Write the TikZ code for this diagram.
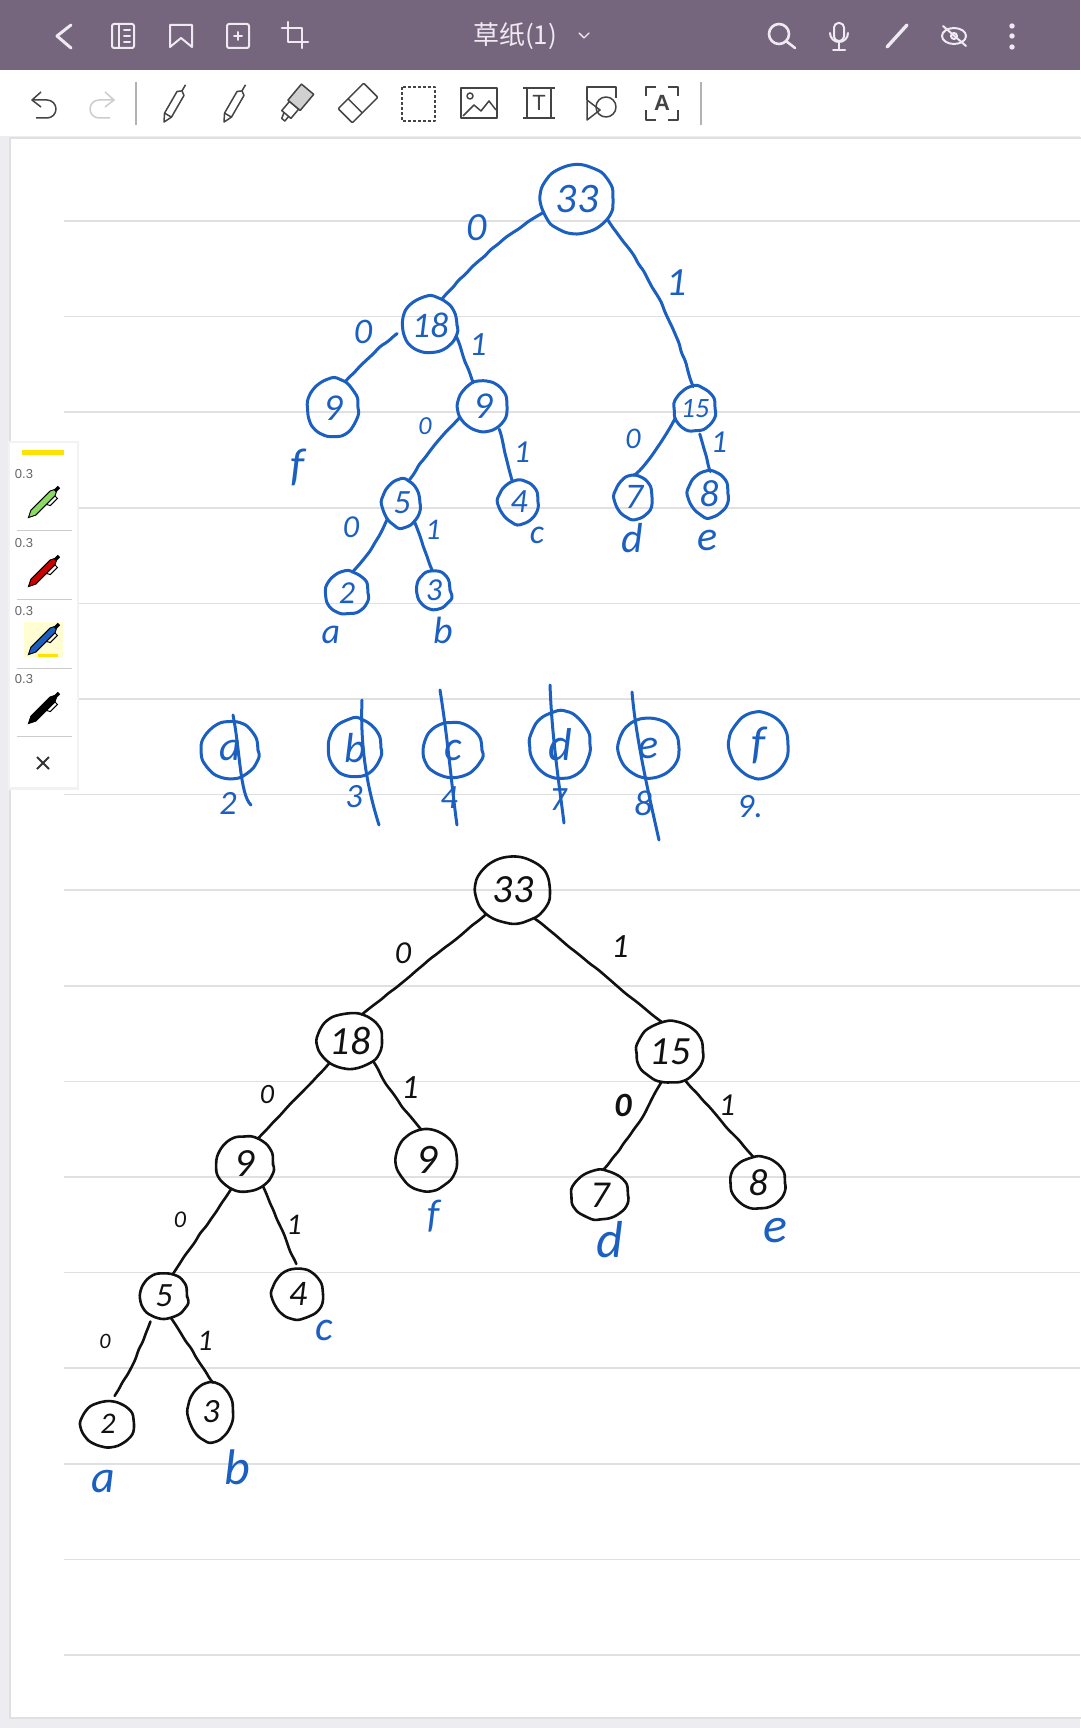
\documentclass[tikz,border=0pt]{standalone}
\usepackage{fontspec}
\setmainfont{Carlito}
\newfontfamily\cjk{Noto Sans CJK SC}
\newfontfamily\uifont{Liberation Sans}
\usetikzlibrary{shapes.geometric,decorations.pathmorphing}
\definecolor{barcolor}{HTML}{75667D}
\definecolor{barink}{HTML}{EFE9F2}
\definecolor{toolink}{HTML}{444444}
\definecolor{ruleline}{HTML}{E0E0E0}
\definecolor{stripcolor}{HTML}{EDEDF1}
\definecolor{inkblue}{HTML}{1B5FC1}
\definecolor{inkblack}{HTML}{111111}
\tikzset{
	wobble/.style={decorate, decoration={random steps, segment length=9pt, amplitude=0.7pt}, rounded corners=3pt, line join=round},
	ballwobble/.style={decorate, decoration={random steps, segment length=9pt, amplitude=0.7pt, pre=lineto, pre length=2pt, post=lineto, post length=5pt}, rounded corners=3pt, line join=round},
	ruled/.style={draw=ruleline, line width=1.6pt},
	barline/.style={draw=barink, line width=2pt, line cap=round, line join=round},
	toolline/.style={draw=toolink, line width=1.5pt, line join=round},
	blueedge/.style={draw=inkblue, line width=3pt, line cap=round},
	blackedge/.style={draw=inkblack, line width=2.6pt, line cap=round},
	ball/.style 2 args={shape=ellipse, inner sep=0pt, minimum width=2*#1, minimum height=2*#2, ballwobble},
	bluenode/.style 2 args={ball={#1}{#2}, draw=inkblue, line width=3pt, text=inkblue},
	blacknode/.style 2 args={ball={#1}{#2}, draw=inkblack, line width=2.6pt, text=inkblack},
	pts/.style={font=\fontsize{#1}{#1}\selectfont\itshape},
	bluetext/.style={pts=#1, text=inkblue, inner sep=0pt},
	blacktext/.style={pts=#1, text=inkblack, inner sep=0pt},
}
\def\penicon(#1, #2)#3{
	\begin{scope}[shift={(#1, #2)}, rotate=45]
		\draw[fill=#3, line width=1pt] (-22, 0) -- (-15, -3.5) -- (12, -3.5) -- (16, -1.5) -- (16, 1.5) -- (12, 3.5) -- (-15, 3.5) -- cycle;
		\draw[fill=black] (16, -1.5) rectangle (21, 1.5);
		\draw[line width=1pt] (12, 3.5) -- (12, 7) -- (2, 7) -- (0, 3.5);
	\end{scope}
}
\def\toolpen(#1, #2){
	\begin{scope}[shift={(#1, #2)}, rotate=60]
		\draw[toolline] (-22, 0) -- (-14, -4) -- (11, -4) -- (14, 0) -- (11, 4) -- (-14, 4) -- cycle;
		\draw[toolline] (14, 0) -- (21, 0);
		\draw[toolline] (-14, -4) -- (-14, 4);
	\end{scope}
}
\begin{document}
\begin{tikzpicture}[x=1pt, y=-1pt]
	%%%%% PAGE %%%%%
	\useasboundingbox (0, 0) rectangle (1080, 1728);
	\fill[stripcolor] (0, 0) rectangle (1080, 1728);
	\draw[draw=black!12, fill=white, line width=1.5pt] (10, 138) rectangle (1084, 1718);
	\fill[barcolor] (0, 0) rectangle (1080, 70);
	\fill[white] (0, 70) rectangle (1080, 136);
	\draw[ruled] (64, 221) -- (1080, 221);
	\draw[ruled] (64, 316.6) -- (1080, 316.6);
	\draw[ruled] (64, 412.2) -- (1080, 412.2);
	\draw[ruled] (64, 507.8) -- (1080, 507.8);
	\draw[ruled] (64, 603.4) -- (1080, 603.4);
	\draw[ruled] (64, 699) -- (1080, 699);
	\draw[ruled] (64, 794.6) -- (1080, 794.6);
	\draw[ruled] (64, 890.2) -- (1080, 890.2);
	\draw[ruled] (64, 985.8) -- (1080, 985.8);
	\draw[ruled] (64, 1081.4) -- (1080, 1081.4);
	\draw[ruled] (64, 1177) -- (1080, 1177);
	\draw[ruled] (64, 1272.6) -- (1080, 1272.6);
	\draw[ruled] (64, 1368.2) -- (1080, 1368.2);
	\draw[ruled] (64, 1463.8) -- (1080, 1463.8);
	\draw[ruled] (64, 1559.4) -- (1080, 1559.4);
	\draw[ruled] (64, 1655) -- (1080, 1655);

	%%%%% TOP BAR %%%%%
	\draw[barline, line width=3pt] (71, 25) -- (57, 36) -- (71, 48);
	\draw[barline, rounded corners=2pt] (112, 24) rectangle (134, 48);
	\draw[barline] (119, 24) -- (119, 48);
	\draw[barline] (124, 30) -- (130, 30);
	\draw[barline] (124, 36) -- (130, 36);
	\draw[barline] (124, 42) -- (130, 42);
	\draw[barline] (170, 25) -- (192, 25) -- (192, 47) -- (181, 38) -- (170, 47) -- cycle;
	\draw[barline, rounded corners=2pt] (227, 24) rectangle (249, 48);
	\draw[barline] (234, 36) -- (242, 36);
	\draw[barline] (238, 32) -- (238, 40);
	\draw[barline, line width=2.6pt] (288, 22) -- (288, 42) -- (308, 42);
	\draw[barline, line width=2.6pt] (282, 28) -- (302, 28) -- (302, 48);
	\node[text=barink, inner sep=0pt] (title) at (515, 36) {\fontsize{26}{26}\selectfont\cjk 草纸(1)};
	\draw[barline, line width=1.4pt] (579, 33) -- (584, 38) -- (589, 33);
	\draw[barline, line width=2.6pt] (779, 34) circle (10);
	\draw[barline, line width=2.6pt] (786, 41) -- (795, 48);
	\draw[barline, rounded corners=4.5pt] (834, 23) rectangle (844, 41);
	\draw[barline] (830, 33) arc (180:0:9);
	\draw[barline] (839, 42) -- (839, 50);
	\draw[barline] (833, 50) -- (845, 50);
	\draw[barline, line width=3.4pt] (887, 47) -- (907, 25);
	\draw[barline] (954, 36) ellipse (12 and 8);
	\draw[barline] (954, 36) circle (3);
	\draw[barline] (943, 26) -- (966, 46);
	\fill[barink] (1012, 26) circle (2.7);
	\fill[barink] (1012, 36) circle (2.7);
	\fill[barink] (1012, 47) circle (2.7);

	%%%%% TOOLBAR %%%%%
	\draw[toolline] (41, 92) -- (32, 100) -- (41, 107);
	\draw[toolline] (32, 100) -- (47, 100) arc (-90:90:9) -- (36, 118);
	\draw[toolline, draw=black!20] (105, 92) -- (114, 100) -- (105, 107);
	\draw[toolline, draw=black!20] (114, 100) -- (99, 100) arc (-90:-270:9) -- (110, 118);
	\draw[draw=black!30, line width=1.2pt] (136, 82) -- (136, 125);
	\toolpen(175, 103);
	\toolpen(235, 103);
	\begin{scope}[shift={(296, 103)}, rotate=50]
		\draw[toolline] (-15, -6) rectangle (-3, 6);
		\draw[toolline, fill=toolink!25] (-3, -8) rectangle (18, 8);
		\draw[toolline] (-15, -3) -- (-21, -1) -- (-21, 3) -- (-15, 3);
	\end{scope}
	\begin{scope}[shift={(358, 103)}, rotate=45]
		\draw[toolline, rounded corners=1pt] (-18, -10) rectangle (18, 10);
		\draw[toolline] (-4, -10) -- (-4, 10);
	\end{scope}
	\draw[toolline, densely dashed] (402, 87) rectangle (435, 121);
	\draw[toolline] (461, 88) rectangle (497, 118);
	\draw[toolline] (470, 96) circle (3);
	\draw[toolline] (463, 116) -- (474, 105) -- (481, 111) -- (489, 101) -- (496, 110);
	\draw[toolline] (523, 88) -- (555, 88);
	\draw[toolline] (523, 118) -- (555, 118);
	\draw[toolline] (527, 88) -- (527, 118);
	\draw[toolline] (551, 88) -- (551, 118);
	\node[text=toolink, inner sep=0pt] (textT) at (539, 103) {\fontsize{22}{22}\selectfont\uifont T};
	\draw[toolline] (587, 100) -- (587, 87) -- (616, 87) -- (616, 98);
	\draw[toolline] (587, 100) -- (587, 120) -- (600, 110) -- cycle;
	\draw[toolline] (606, 107) circle (10);
	\draw[toolline] (646, 96) -- (646, 87) -- (656, 87);
	\draw[toolline] (668, 87) -- (678, 87) -- (678, 96);
	\draw[toolline] (646, 110) -- (646, 120) -- (656, 120);
	\draw[toolline] (668, 120) -- (678, 120) -- (678, 110);
	\node[text=toolink, inner sep=0pt] (textA) at (662, 103) {\fontsize{22}{22}\selectfont\uifont\bfseries A};
	\draw[draw=black!30, line width=1.2pt] (701, 82) -- (701, 125);

	%%%%% PEN PANEL %%%%%
	\fill[black!5] (8, 441) rectangle (79, 790);
	\fill[white] (10, 443) rectangle (77, 787);
	\fill[yellow!85!orange] (22, 449.5) rectangle (64, 454.5);
	\node[text=black!60, inner sep=0pt] (thick1) at (24, 474) {\fontsize{13}{13}\selectfont\uifont 0.3};
	\node[text=black!60, inner sep=0pt] (thick2) at (24, 543) {\fontsize{13}{13}\selectfont\uifont 0.3};
	\node[text=black!60, inner sep=0pt] (thick3) at (24, 611) {\fontsize{13}{13}\selectfont\uifont 0.3};
	\node[text=black!60, inner sep=0pt] (thick4) at (24, 679) {\fontsize{13}{13}\selectfont\uifont 0.3};
	\fill[yellow!18] (24, 622) rectangle (63, 658);
	\fill[yellow!85!orange] (38, 654) rectangle (58, 656.5);
	\penicon(44, 502){green!50!olive!60!white}
	\penicon(44, 571){red!80!black}
	\penicon(44, 639){inkblue}
	\penicon(44, 708){black}
	\draw[draw=black!20, line width=1pt] (17, 530) -- (72, 530);
	\draw[draw=black!20, line width=1pt] (17, 599) -- (72, 599);
	\draw[draw=black!20, line width=1pt] (17, 668) -- (72, 668);
	\draw[draw=black!20, line width=1pt] (17, 736) -- (72, 736);
	\draw[draw=black!80, line width=2pt] (37, 757) -- (49, 769);
	\draw[draw=black!80, line width=2pt] (49, 757) -- (37, 769);

	%%%%% BLUE TREE %%%%%
	\pgfmathsetseed{42}
	\node[bluenode={36pt}{34pt}, bluetext=42] (up33) at (577, 199) {33};
	\node[bluenode={27pt}{27pt}, bluetext=36] (up18) at (430, 325) {18};
	\node[bluenode={25pt}{28pt}, bluetext=38] (upnineL) at (333, 408) {9};
	\node[bluenode={24pt}{24pt}, bluetext=38] (upnineR) at (483, 406) {9};
	\node[bluenode={20pt}{21pt}, bluetext=28] (up15) at (695, 409) {15};
	\node[bluenode={18pt}{22pt}, bluetext=34] (up5) at (402, 503) {5};
	\node[bluenode={19pt}{20pt}, bluetext=34] (up4) at (519, 502) {4};
	\node[bluenode={18pt}{20pt}, bluetext=36] (up7) at (634, 497) {7};
	\node[bluenode={19pt}{21pt}, bluetext=38] (up8) at (709, 494) {8};
	\node[bluenode={21pt}{20pt}, bluetext=32] (up2) at (347, 593) {2};
	\node[bluenode={16pt}{18pt}, bluetext=32] (up3) at (434, 590) {3};

	\draw[blueedge, wobble] (up33.202) to[bend right=8] (up18.65);
	\draw[blueedge, wobble] (up33.-34) to[bend left=10] (up15.95);
	\draw[blueedge, wobble, shorten <=8pt] (up18.191) to[bend right=6] (upnineL.65);
	\draw[blueedge, wobble] (up18.-23) to (upnineR.113);
	\draw[blueedge, wobble] (upnineR.206) to[bend right=6] (up5.73);
	\draw[blueedge, wobble, shorten <=3pt] (upnineR.-53) to (up4.108);
	\draw[blueedge, wobble] (up15.205) to[bend left=8] (up7.90);
	\draw[blueedge, wobble, shorten <=3pt] (up15.-80) to (up8.87);
	\draw[blueedge, wobble] (up5.227) to[bend left=8] (up2.76);
	\draw[blueedge, wobble] (up5.-56) to (up3.95);

	\node[bluetext=40] (upzeroA) at (477, 228) {0};
	\node[bluetext=40] (uponeA) at (677, 283) {1};
	\node[bluetext=36] (upzeroB) at (363, 332) {0};
	\node[bluetext=34] (uponeB) at (478, 345) {1};
	\node[bluetext=26] (upzeroC) at (425, 426) {0};
	\node[bluetext=32] (uponeC) at (522, 452) {1};
	\node[bluetext=30] (upzeroD) at (633, 439) {0};
	\node[bluetext=32] (uponeD) at (719, 442) {1};
	\node[bluetext=32] (upzeroE) at (351, 527) {0};
	\node[bluetext=30] (uponeE) at (433, 530) {1};
	\node[bluetext=46] (upf) at (298, 467) {f};
	\node[bluetext=36] (upa) at (331, 635) {a};
	\node[bluetext=38] (upb) at (443, 630) {b};
	\node[bluetext=34] (upc) at (537, 535) {c};
	\node[bluetext=42] (upd) at (632, 538) {d};
	\node[bluetext=42] (upe) at (708, 540) {e};

	%%%%% LETTER ROW %%%%%
	\node[bluenode={28pt}{28pt}, bluetext=42] (rowa) at (230, 750) {a};
	\node[bluenode={26pt}{28pt}, bluetext=42] (rowb) at (355, 748) {b};
	\node[bluenode={29pt}{27pt}, bluetext=42] (rowc) at (453, 750) {c};
	\node[bluenode={30pt}{33pt}, bluetext=46] (rowd) at (560, 745) {d};
	\node[bluenode={30pt}{29pt}, bluetext=42] (rowe) at (649, 748) {e};
	\node[bluenode={29pt}{32pt}, bluetext=46] (rowf) at (759, 745) {f};
	\node[bluetext=34] (rowtwo) at (228, 803) {2};
	\node[bluetext=34] (rowthree) at (354, 797) {3};
	\node[bluetext=34] (rowfour) at (449, 798) {4};
	\node[bluetext=34] (rowseven) at (558, 800) {7};
	\node[bluetext=36] (roweight) at (643, 803) {8};
	\node[bluetext=34] (rownine) at (750, 807) {9.};
	\draw[blueedge] (233, 715) .. controls (240, 750) and (240, 795) .. (251, 805);
	\draw[blueedge] (362, 700) .. controls (360, 750) and (368, 790) .. (379, 825);
	\draw[blueedge] (440, 690) .. controls (448, 740) and (452, 790) .. (457, 825);
	\draw[blueedge] (550, 685) .. controls (552, 740) and (560, 790) .. (564, 823);
	\draw[blueedge] (632, 692) .. controls (636, 740) and (650, 800) .. (659, 840);

	%%%%% BLACK TREE %%%%%
	\node[blacknode={37pt}{33pt}, blacktext=40] (low33) at (513, 890) {33};
	\node[blacknode={32pt}{27pt}, blacktext=40] (low18) at (350, 1041) {18};
	\node[blacknode={33pt}{30pt}, blacktext=40] (low15) at (670, 1052) {15};
	\node[blacknode={28pt}{27pt}, blacktext=40] (lownineL) at (245, 1164) {9};
	\node[blacknode={30pt}{30pt}, blacktext=42] (lownineR) at (427, 1160) {9};
	\node[blacknode={28pt}{24pt}, blacktext=38] (low7) at (600, 1195) {7};
	\node[blacknode={27pt}{25pt}, blacktext=38] (low8) at (758, 1183) {8};
	\node[blacknode={23pt}{22pt}, blacktext=34] (low5) at (164, 1296) {5};
	\node[blacknode={25pt}{24pt}, blacktext=36] (low4) at (298, 1294) {4};
	\node[blacknode={26pt}{22pt}, blacktext=30] (low2) at (108, 1424) {2};
	\node[blacknode={22pt}{28pt}, blacktext=34] (low3) at (211, 1412) {3};

	\draw[blackedge, wobble] (low33.222) to (low18.66);
	\draw[blackedge, wobble] (low33.-53) to (low15.106);
	\draw[blackedge, wobble] (low18.227) to (lownineL.63);
	\draw[blackedge, wobble] (low18.-41) to[bend right=6] (lownineR.101);
	\draw[blackedge, wobble] (low15.254) to[bend left=6] (low7.83);
	\draw[blackedge, wobble] (low15.-62) to (low8.100);
	\draw[blackedge, wobble] (lownineL.241) to (low5.68);
	\draw[blackedge, wobble, shorten >=6pt] (lownineL.-51) to (low4.90);
	\draw[blackedge, wobble, shorten <=6pt, shorten >=6pt] (low5.240) to[bend left=6] (low2.82);
	\draw[blackedge, wobble] (low5.-72) to (low3.86);

	\node[blacktext=32] (lowzeroA) at (403, 953) {0};
	\node[blacktext=34] (lowoneA) at (620, 947) {1};
	\node[blacktext=28] (lowzeroB) at (267, 1095) {0};
	\node[blacktext=34] (lowoneB) at (410, 1088) {1};
	\node[blacktext=34, font=\fontsize{34}{34}\selectfont\bfseries\itshape] (lowzeroC) at (623, 1105) {0};
	\node[blacktext=32] (lowoneC) at (727, 1105) {1};
	\node[blacktext=24] (lowzeroD) at (180, 1220) {0};
	\node[blacktext=30] (lowoneD) at (294, 1225) {1};
	\node[blacktext=22] (lowzeroE) at (105, 1341) {0};
	\node[blacktext=30] (lowoneE) at (205, 1341) {1};
	\node[bluetext=40] (lowf) at (434, 1216) {f};
	\node[bluetext=52] (lowd) at (610, 1240) {d};
	\node[bluetext=50] (lowe) at (775, 1231) {e};
	\node[bluetext=42] (lowc) at (324, 1330) {c};
	\node[bluetext=46] (lowa) at (103, 1482) {a};
	\node[bluetext=50] (lowb) at (237, 1467) {b};
\end{tikzpicture}
\end{document}
